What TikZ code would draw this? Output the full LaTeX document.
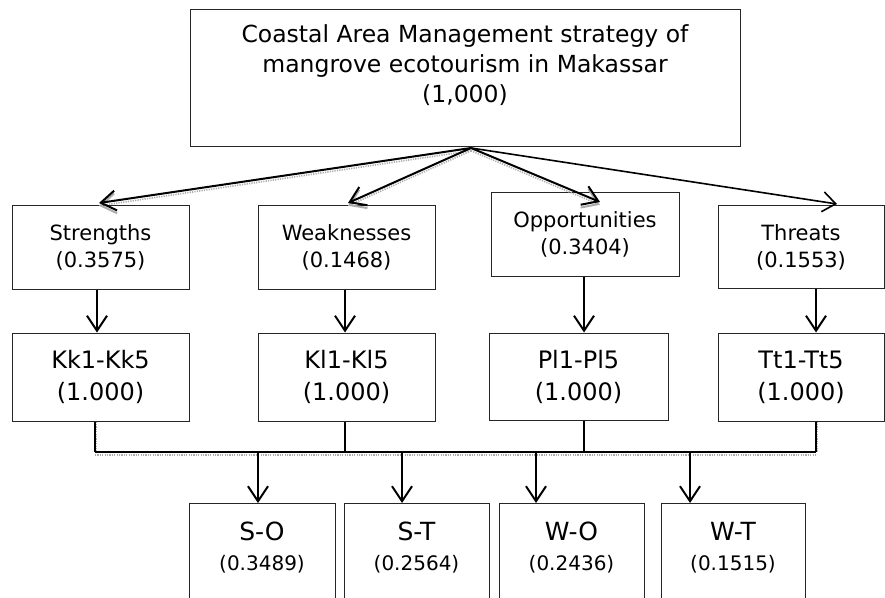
\documentclass[tikz,border=0pt]{standalone}
\usepackage{fontspec}
\setmainfont{DejaVu Sans}
\usetikzlibrary{arrows.meta,calc}
\tikzset{
  box/.style={draw=black!85, line width=1pt, inner sep=0pt, align=center},
  conn/.style={line width=2pt, -{Straight Barb[length=15pt,width=20pt,line width=2pt]}},
  thinconn/.style={line width=1.6pt, -{Straight Barb[length=13pt,width=20pt,line width=1.6pt]}},
  plain/.style={line width=2pt},
  shad/.style={preaction={draw=gray!65, line width=1.6pt, dash pattern=on 1.2pt off 1.2pt,
      transform canvas={yshift=-2.8pt}}},
  vshad/.style={preaction={draw=gray!65, line width=1.4pt, dash pattern=on 1.2pt off 1.2pt,
      transform canvas={xshift=1.6pt}}},
  midtext/.style={font=\fontsize{21}{27}\selectfont},
  ktext/.style={font=\fontsize{24}{32}\selectfont},
}
\begin{document}
\begin{tikzpicture}[x=1pt,y=-1pt]
\useasboundingbox (0,0) rectangle (885,597);
% top box
\node[box, minimum width=550pt, minimum height=137pt] (top) at (465,77.5) {};
\node[align=center, font=\fontsize{23.5}{30}\selectfont] (toptxt) at (465,65.5)
  {Coastal Area Management strategy of\\mangrove ecotourism in Makassar\\(1,000)};
% level 2
\node[box, midtext, minimum width=177pt, minimum height=84pt] (S) at (100.5,247) {Strengths\\(0.3575)};
\node[box, midtext, minimum width=177pt, minimum height=84pt] (W) at (346.5,247) {Weaknesses\\(0.1468)};
\node[box, midtext, minimum width=188pt, minimum height=84pt] (O) at (585,234) {Opportunities\\(0.3404)};
\node[box, midtext, minimum width=166pt, minimum height=83pt] (T) at (801,247) {Threats\\(0.1553)};
% level 3
\node[box, ktext, minimum width=177pt, minimum height=88pt] (Kk) at (100.5,377) {Kk1-Kk5\\(1.000)};
\node[box, ktext, minimum width=177pt, minimum height=88pt] (Kl) at (346.5,377) {Kl1-Kl5\\(1.000)};
\node[box, ktext, minimum width=179pt, minimum height=87pt] (Pl) at (578.5,376.5) {Pl1-Pl5\\(1.000)};
\node[box, ktext, minimum width=166pt, minimum height=88pt] (Tt) at (801,377) {Tt1-Tt5\\(1.000)};
% level 4
\node[box, minimum width=146pt, minimum height=120pt, anchor=north] (SO) at (262,503) {};
\node[box, minimum width=145pt, minimum height=120pt, anchor=north] (ST) at (416.5,503) {};
\node[box, minimum width=145pt, minimum height=120pt, anchor=north] (WO) at (571.5,503) {};
\node[box, minimum width=144pt, minimum height=120pt, anchor=north] (WT) at (733,503) {};
\foreach \n/\a/\b in {SO/S-O/0.3489, ST/S-T/0.2564, WO/W-O/0.2436, WT/W-T/0.1515}{
  \node[align=center, font=\fontsize{25}{30}\selectfont] (\n txt) at ($(\n.north)+(0,45)$)
    {\a\\{\fontsize{20}{20}\selectfont(\b)}};
}
% arrows from the top
\coordinate (apex) at (471,148);
\coordinate (tS) at (99,203);
\coordinate (tW) at (348,203);
\coordinate (tO) at (600,202);
\coordinate (tT) at (837,204);
\draw[conn, shad] (apex) -- (tS);
\draw[conn, shad] (apex) -- (tW);
\draw[conn, shad] (apex) -- (tO);
\draw[thinconn] (apex) -- (tT);
% level 2 -> level 3
\coordinate (c1) at (97,0);
\coordinate (c2) at (345,0);
\coordinate (c3) at (584,0);
\coordinate (c4) at (816,0);
\draw[conn] (S.south -| c1) -- (Kk.north -| c1);
\draw[conn] (W.south -| c2) -- (Kl.north -| c2);
\draw[conn] (O.south -| c3) -- (Pl.north -| c3);
\draw[conn] (T.south -| c4) -- (Tt.north -| c4);
% bus
\coordinate (b1) at (95,452);
\coordinate (b4) at (816,452);
\draw[plain, vshad] (Kk.south -| b1) -- (b1);
\draw[plain] (Kl.south -| c2) -- (b1 -| c2);
\draw[plain] (Pl.south -| c3) -- (b1 -| c3);
\draw[plain, vshad] (Tt.south -| b4) -- (b4);
\draw[plain, shad] (b1) -- (b4);
\draw[conn] ([xshift=-4pt]SO.north |- b1) -- ([xshift=-4pt]SO.north);
\draw[conn] ([xshift=-14.5pt]ST.north |- b1) -- ([xshift=-14.5pt]ST.north);
\draw[conn] ([xshift=-35.5pt]WO.north |- b1) -- ([xshift=-35.5pt]WO.north);
\draw[conn] ([xshift=-43pt]WT.north |- b1) -- ([xshift=-43pt]WT.north);
\end{tikzpicture}
\end{document}
